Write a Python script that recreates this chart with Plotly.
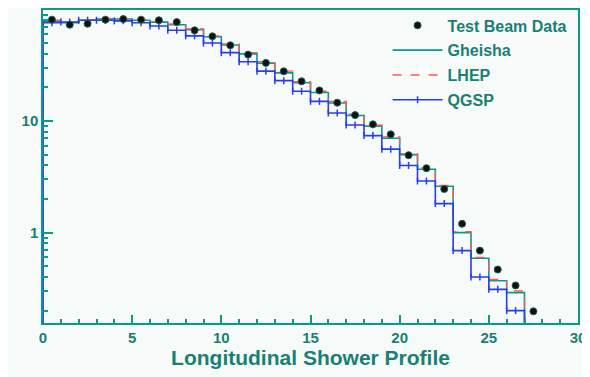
import plotly.graph_objects as go

# ---- data ----
bin_edges = list(range(0, 31))  # 0..30, width 1
data_x = [0.5, 1.5, 2.5, 3.5, 4.5, 5.5, 6.5, 7.5, 8.5, 9.5, 10.5, 11.5, 12.5, 13.5,
          14.5, 15.5, 16.5, 17.5, 18.5, 19.5, 20.5, 21.5, 22.5, 23.5, 24.5, 25.5, 26.5, 27.5]
data_y = [81, 73, 74.5, 81, 82, 81, 80, 77, 65, 57.4, 47.7, 39.4, 33.2, 27.9,
          22.7, 18.8, 14.6, 11.3, 9.34, 7.6, 4.94, 3.78, 2.46, 1.2, 0.69, 0.467, 0.336, 0.197]

gheisha = [78, 76, 80, 82, 82, 80, 77, 73, 66, 57, 48, 40, 33, 27, 22, 18, 14.5, 11.2,
           9.0, 7.0, 5.0, 3.7, 2.6, 1.0, 0.59, 0.37, 0.29, 0, 0, 0]
lhep = [80, 77, 81, 83, 82, 81, 78, 74, 67, 58, 49, 41, 34, 28, 22.5, 18.5, 15, 11.5,
        9.2, 7.2, 5.1, 3.8, 2.65, 1.02, 0.6, 0.38, 0.3, 0, 0, 0]
qgsp = [76, 77, 80, 80, 79, 76, 71, 65, 58, 50, 41, 34, 28, 23, 18.5, 15, 11.8, 9.2,
        7.4, 5.6, 4.0, 2.9, 1.82, 0.69, 0.40, 0.31, 0.20, 0, 0, 0]

x_ticks = [0, 5, 10, 15, 20, 25, 30]
y_ticks = [1, 10]
y_minor = [0.2, 0.3, 0.4, 0.5, 0.6, 0.7, 0.8, 0.9, 2, 3, 4, 5, 6, 7, 8, 9,
           20, 30, 40, 50, 60, 70, 80, 90]

FLOOR = 1e-3  # stand-in for empty bins on the log axis


def steps(edges, vals, with_mid=False):
    xs, ys = [edges[0]], [FLOOR]
    for i, v in enumerate(vals):
        vv = v if v > 0 else FLOOR
        xs.append(edges[i]); ys.append(vv)
        if with_mid:
            xs.append((edges[i] + edges[i + 1]) / 2); ys.append(vv)
    xs.append(edges[-1]); ys.append(ys[-1])
    return xs, ys


TEAL = "#0a9a8c"
RED = "#ff5a5a"
BLUE = "#2a3cf0"
TXT = "#1b7f74"

fig = go.Figure()

gx, gy = steps(bin_edges, gheisha)
fig.add_trace(go.Scatter(x=gx, y=gy, mode="lines", line=dict(color=TEAL, width=1.6, shape="hv"),
                         name="Gheisha", legendgroup="b", legendrank=2))
lx, ly = steps(bin_edges, lhep)
fig.add_trace(go.Scatter(x=lx, y=ly, mode="lines", line=dict(color=RED, width=1.4, shape="hv", dash="dash"),
                         name="LHEP", legendgroup="c", legendrank=3))
qx, qy = steps(bin_edges, qgsp, with_mid=True)
fig.add_trace(go.Scatter(x=qx, y=qy, mode="lines+markers",
                         line=dict(color=BLUE, width=1.6, shape="hv"),
                         marker=dict(symbol="line-ns", size=5, line=dict(color=BLUE, width=1.5)),
                         name="QGSP", legendgroup="d", legendrank=4))
fig.add_trace(go.Scatter(x=data_x, y=data_y, mode="markers",
                         marker=dict(symbol="circle", size=7, color="#111111",
                                     line=dict(color="#1b5f58", width=1)),
                         name="Test Beam Data", legendgroup="a", legendrank=1))

fig.update_layout(
    width=582, height=369,
    margin=dict(l=35, r=12, t=0, b=54),
    paper_bgcolor="#f6faf8", plot_bgcolor="#f6faf8",
    font=dict(family="Liberation Sans, Arial, sans-serif", color=TXT),
    legend=dict(x=0.988, y=1.005, xanchor="right", yanchor="top", traceorder="grouped",
                bgcolor="rgba(0,0,0,0)", font=dict(size=16, weight="bold", color=TXT),
                itemwidth=50, tracegroupgap=1),
    showlegend=True,
)

fig.update_xaxes(range=[0, 30], tickvals=x_ticks, ticks="inside", ticklen=8, tickwidth=1.5,
                 tickcolor=TEAL, showline=True, linecolor=TEAL, linewidth=1.5, mirror=True,
                 showgrid=False, zeroline=False,
                 tickfont=dict(size=15, weight="bold", color=TXT),
                 minor=dict(dtick=1, ticks="inside", ticklen=4, tickwidth=1.5, tickcolor=TEAL, showgrid=False),
                 title=dict(text="Longitudinal Shower Profile", font=dict(size=21, weight="bold", color=TXT),
                            standoff=4))

fig.update_yaxes(type="log", range=[-0.81, 1.995], tickvals=y_ticks, ticktext=["1", "10"],
                 ticks="inside", ticklen=10, tickwidth=1.5, tickcolor=TEAL,
                 showline=True, linecolor=TEAL, linewidth=1.5, mirror=True,
                 showgrid=False, zeroline=False,
                 tickfont=dict(size=15, weight="bold", color=TXT),
                 minor=dict(tickvals=y_minor, ticks="inside", ticklen=5, tickwidth=1.5, tickcolor=TEAL,
                            showgrid=False))

fig.write_html("out.html")
